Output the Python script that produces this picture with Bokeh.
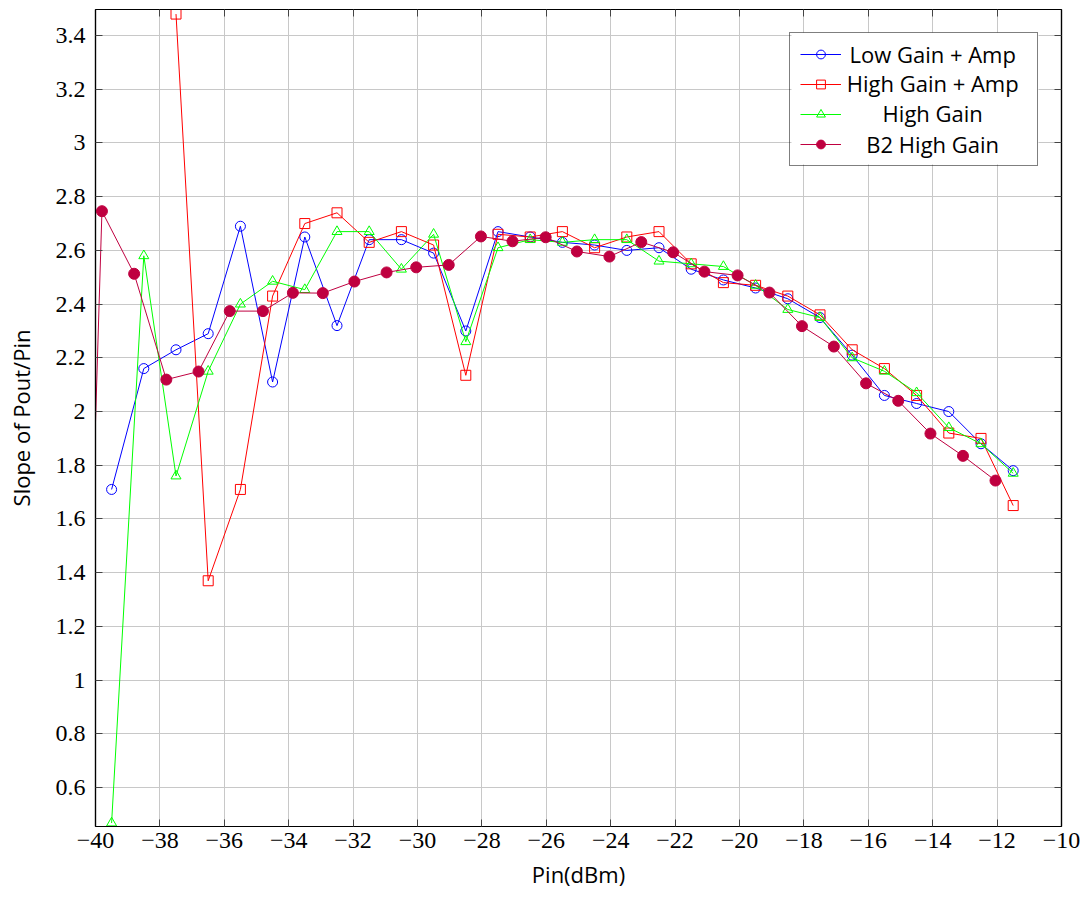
from bokeh.plotting import figure
from bokeh.models import (Range1d, FixedTicker, LinearAxis, Legend, LegendItem,
                          CustomJSTickFormatter, BoxAnnotation)
from bokeh.core.properties import value
from bokeh.embed import file_html
from bokeh.resources import INLINE

# ---------------- data ----------------
series_names = ["Low Gain + Amp", "High Gain + Amp", "High Gain", "B2 High Gain"]

low_amp_x = [-39.5, -38.5, -37.5, -36.5, -35.5, -34.5, -33.5, -32.5, -31.5, -30.5,
             -29.5, -28.5, -27.5, -26.5, -25.5, -24.5, -23.5, -22.5, -21.5, -20.5,
             -19.5, -18.5, -17.5, -16.5, -15.5, -14.5, -13.5, -12.5, -11.5]
low_amp_y = [1.71, 2.16, 2.23, 2.29, 2.69, 2.11, 2.65, 2.32, 2.64, 2.64,
             2.59, 2.30, 2.67, 2.65, 2.63, 2.62, 2.60, 2.61, 2.53, 2.49,
             2.46, 2.42, 2.35, 2.21, 2.06, 2.03, 2.00, 1.88, 1.78]

high_amp_x = [-37.5, -36.5, -35.5, -34.5, -33.5, -32.5, -31.5, -30.5,
              -29.5, -28.5, -27.5, -26.5, -25.5, -24.5, -23.5, -22.5, -21.5, -20.5,
              -19.5, -18.5, -17.5, -16.5, -15.5, -14.5, -13.5, -12.5, -11.5]
high_amp_y = [3.48, 1.37, 1.71, 2.43, 2.70, 2.74, 2.63, 2.67,
              2.62, 2.135, 2.66, 2.65, 2.67, 2.61, 2.65, 2.67, 2.55, 2.48,
              2.47, 2.43, 2.36, 2.23, 2.16, 2.06, 1.92, 1.90, 1.65]

high_gain_x = [-39.5, -38.5, -37.5, -36.5, -35.5, -34.5, -33.5, -32.5, -31.5, -30.5,
               -29.5, -28.5, -27.5, -26.5, -25.5, -24.5, -23.5, -22.5, -21.5, -20.5,
               -19.5, -18.5, -17.5, -16.5, -15.5, -14.5, -13.5, -12.5, -11.5]
high_gain_y = [0.468, 2.58, 1.76, 2.15, 2.40, 2.485, 2.454, 2.67, 2.67, 2.53,
               2.66, 2.26, 2.61, 2.64, 2.63, 2.64, 2.64, 2.56, 2.55, 2.54,
               2.47, 2.38, 2.35, 2.20, 2.15, 2.07, 1.94, 1.88, 1.77]

b2_x = [-40.8, -39.8, -38.8, -37.8, -36.8, -35.83, -34.8, -33.87, -32.94, -31.96,
        -30.96, -30.04, -29.03, -28.03, -27.05, -26.02, -25.05, -24.04, -23.05, -22.06,
        -21.09, -20.06, -19.07, -18.06, -17.07, -16.07, -15.07, -14.07, -13.06, -12.05]
b2_y = [-1.18, 2.746, 2.513, 2.119, 2.149, 2.374, 2.374, 2.442, 2.441, 2.484,
        2.518, 2.537, 2.546, 2.652, 2.634, 2.649, 2.596, 2.577, 2.631, 2.593,
        2.521, 2.507, 2.443, 2.318, 2.242, 2.105, 2.040, 1.918, 1.835, 1.743]

x_ticks = [-40, -38, -36, -34, -32, -30, -28, -26, -24, -22, -20, -18, -16, -14, -12, -10]
x_tick_labels = ["\u221240", "\u221238", "\u221236", "\u221234", "\u221232", "\u221230",
                 "\u221228", "\u221226", "\u221224", "\u221222", "\u221220", "\u221218",
                 "\u221216", "\u221214", "\u221212", "\u221210"]
y_ticks = [0.6, 0.8, 1.0, 1.2, 1.4, 1.6, 1.8, 2.0, 2.2, 2.4, 2.6, 2.8, 3.0, 3.2, 3.4]
y_tick_labels = ["0.6", "0.8", "1", "1.2", "1.4", "1.6", "1.8", "2", "2.2", "2.4",
                 "2.6", "2.8", "3", "3.2", "3.4"]

# ---------------- figure ----------------
TICK_FONT = "Liberation Serif"
SANS = "Open Sans"

p = figure(width=1088, height=897,
           x_range=Range1d(-40, -10), y_range=Range1d(0.455, 3.497),
           output_backend="svg", toolbar_location=None,
           min_border_left=95, min_border_right=27,
           min_border_top=9, min_border_bottom=71)

p.background_fill_color = "white"
p.border_fill_color = "white"
p.outline_line_color = "black"
p.outline_line_width = 1.2

LOOKUP = ("const i = tk_vals.findIndex(t => Math.abs(t - tick) < 1e-6);"
          "return i >= 0 ? tk_text[i] : '';")

xa = p.xaxis[0]
ya = p.yaxis[0]
xa.ticker = FixedTicker(ticks=x_ticks)
ya.ticker = FixedTicker(ticks=y_ticks)
xa.formatter = CustomJSTickFormatter(args=dict(tk_vals=x_ticks, tk_text=x_tick_labels), code=LOOKUP)
ya.formatter = CustomJSTickFormatter(args=dict(tk_vals=y_ticks, tk_text=y_tick_labels), code=LOOKUP)
for ax in (xa, ya):
    ax.major_tick_in = 7
    ax.major_tick_out = 0
    ax.major_tick_line_color = "#444444"
    ax.minor_tick_line_color = None
    ax.axis_line_color = "black"
    ax.axis_line_width = 1.2
    ax.major_label_text_font = TICK_FONT
    ax.major_label_text_font_size = "24px"
    ax.major_label_text_color = "black"
    ax.axis_label_text_font = SANS
    ax.axis_label_text_font_size = "22px"
    ax.axis_label_text_font_style = "normal"
    ax.axis_label_text_color = "black"
xa.axis_label = "Pin(dBm)"
ya.axis_label = "Slope of Pout/Pin"
xa.major_label_standoff = 6
xa.axis_label_standoff = 8
ya.major_label_standoff = 10
ya.axis_label_standoff = 17

# mirrored ticks on top / right
for loc, tk in (("above", x_ticks), ("right", y_ticks)):
    ax = LinearAxis(ticker=FixedTicker(ticks=tk),
                    formatter=CustomJSTickFormatter(code="return ''"),
                    major_label_text_font_size="0px", major_label_standoff=0,
                    major_tick_in=7, major_tick_out=0,
                    major_tick_line_color="#444444",
                    minor_tick_line_color=None,
                    axis_line_color="black", axis_line_width=1.2)
    p.add_layout(ax, loc)

p.xgrid.ticker = FixedTicker(ticks=x_ticks)
p.ygrid.ticker = FixedTicker(ticks=y_ticks)
p.grid.grid_line_color = "#c8c8c8"
p.grid.grid_line_width = 1

# white backing of the legend box (covers the grid, sits under the legend text)
p.add_layout(BoxAnnotation(left=-18.385, right=-10.714, bottom=2.9199, top=3.4113,
                           fill_color="white", fill_alpha=1, line_color=None,
                           level="underlay", editable=False))

# ---------------- series ----------------
BLUE, RED, GREEN, PURPLE = "#0000ff", "#ff0000", "#00ff00", "#bf0040"

l1 = p.line(low_amp_x, low_amp_y, line_color=BLUE, line_width=1)
m1 = p.scatter(low_amp_x, low_amp_y, marker="circle", size=10,
               line_color=BLUE, fill_color=None, line_width=1)
l2 = p.line(high_amp_x, high_amp_y, line_color=RED, line_width=1)
m2 = p.scatter(high_amp_x, high_amp_y, marker="square", size=10,
               line_color=RED, fill_color=None, line_width=1)
l3 = p.line(high_gain_x, high_gain_y, line_color=GREEN, line_width=1)
m3 = p.scatter(high_gain_x, high_gain_y, marker="triangle", size=10,
               line_color=GREEN, fill_color=None, line_width=1)
l4 = p.line(b2_x, b2_y, line_color=PURPLE, line_width=1)
m4 = p.scatter(b2_x, b2_y, marker="circle", size=11,
               line_color=PURPLE, fill_color=PURPLE, line_width=1)

# ---------------- legend text (centered) ----------------
legend_label_x = -14.0
legend_label_y = [3.333, 3.2215, 3.110, 2.998]
p.text(x=[legend_label_x] * len(series_names), y=legend_label_y, text=series_names,
       text_align="center", text_baseline="middle",
       text_font=value(SANS), text_font_size="22px", text_color="black")

# ---------------- legend (glyphs + border, transparent background) ----------------
legend = Legend(items=[LegendItem(label="", renderers=[l1, m1]),
                       LegendItem(label="", renderers=[l2, m2]),
                       LegendItem(label="", renderers=[l3, m3]),
                       LegendItem(label="", renderers=[l4, m4])],
                location="top_right", margin=23,
                glyph_width=41, glyph_height=22, spacing=8, padding=10,
                label_standoff=5, label_width=181, label_height=22,
                border_line_color="black", border_line_width=1,
                background_fill_alpha=0)
p.add_layout(legend)

open("out.html", "w").write(file_html(p, INLINE))
